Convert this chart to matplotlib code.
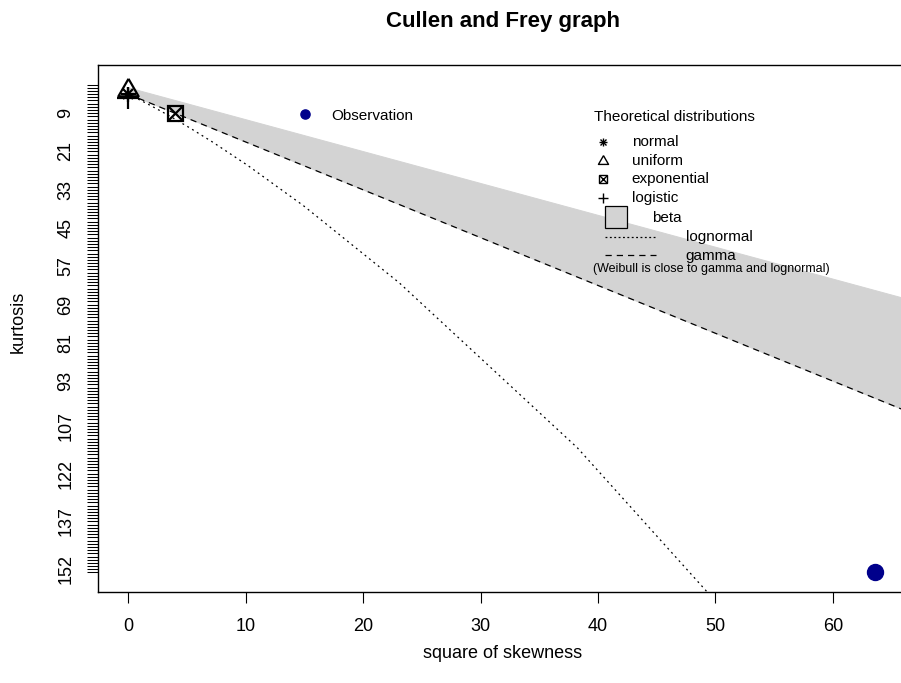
import matplotlib
matplotlib.use("Agg")
import matplotlib.pyplot as plt
from matplotlib.ticker import FixedLocator, FixedFormatter

plt.rcParams['font.family'] = ['Liberation Sans', 'DejaVu Sans']

# ---------------- data ----------------
obs_skew2 = [63.6]
obs_kurt = [152.7]
kurt_max = 153
skew2_max = 64

normal_pt = (0.0, 3.0)
uniform_pt = (0.0, 1.8)
exponential_pt = (4.0, 9.0)
logistic_pt = (0.0, 4.2)

# beta region boundary (square of skewness, kurtosis)
beta_skew2 = [0, 70, 70, 0]
beta_kurt = [1, 71, 108, 3]

# gamma line
gamma_skew2 = [0, 70]
gamma_kurt = [3, 108]

# lognormal curve
lnorm_skew2 = [0.0, 0.4752, 1.4333, 1.8175, 2.3250, 3.0079, 3.9478, 5.2764,
               7.2191, 10.1806, 14.937, 23.087, 38.253, 69.53]
lnorm_kurt = [3.0, 3.857, 5.653, 6.397, 7.400, 8.785, 10.752, 13.647,
              18.103, 25.353, 38.016, 62.19, 113.936, 241.9]

ytick_labels = [9, 21, 33, 45, 57, 69, 81, 93, 107, 122, 137, 152]
xtick_vals = [0, 10, 20, 30, 40, 50, 60]

# ---------------- figure ----------------
W, H = 901, 683
fig = plt.figure(figsize=(W / 100, H / 100), dpi=100)
ax = fig.add_axes([98 / W, (H - 592) / H, 812 / W, 527 / H])

ax.set_xlim(-0.04 * skew2_max, 1.04 * skew2_max)
ax.set_ylim(1.04 * kurt_max, -0.04 * kurt_max)

grey = '#D3D3D3'
ax.fill(beta_skew2, beta_kurt, color=grey, ec=grey, lw=0.7, zorder=1)
ax.plot(gamma_skew2, gamma_kurt, color='black', lw=0.9, ls=(0, (5, 4)), zorder=2)
ax.plot(lnorm_skew2, lnorm_kurt, color='black', lw=0.9, ls=(0, (1.5, 3)), zorder=2)

mew = 1.6
# normal: asterisk (plus + x)
ax.plot(*normal_pt, marker='+', ms=10.8, mew=mew, color='black', zorder=3)
ax.plot(*normal_pt, marker='x', ms=7.6, mew=mew, color='black', zorder=3)
# uniform: open triangle
tri = [(0, 1), (-0.866, -0.5), (0.866, -0.5), (0, 1)]
ax.plot(*uniform_pt, marker=tri, ms=16.8, mew=mew, mfc='none', mec='black', zorder=3)
# exponential: square with cross
ax.plot(*exponential_pt, marker='s', ms=10.8, mew=mew, mfc='none', mec='black', zorder=3)
ax.plot(*exponential_pt, marker='x', ms=10.8, mew=mew, color='black', zorder=3)
# logistic: plus
ax.plot(*logistic_pt, marker='+', ms=15.2, mew=mew, color='black', zorder=3)

# observation
ax.plot(obs_skew2, obs_kurt, ls='none', marker='o', ms=11.5, color='#00008B', zorder=4)

# ---------------- axes styling ----------------
for s in ax.spines.values():
    s.set_linewidth(1.0)
    s.set_color('black')

ax.xaxis.set_major_locator(FixedLocator(xtick_vals))
ax.xaxis.set_major_formatter(FixedFormatter([str(v) for v in xtick_vals]))
yt = list(range(0, kurt_max + 1))
ax.yaxis.set_major_locator(FixedLocator(yt))
ax.yaxis.set_major_formatter(FixedFormatter([str(v) if v in ytick_labels else '' for v in yt]))

ax.tick_params(axis='x', length=8, width=0.8, pad=11, labelsize=13, colors='black')
ax.tick_params(axis='y', length=8, width=0.75, pad=9, labelsize=13, colors='black')
for lab in ax.get_yticklabels():
    lab.set_rotation(90)
    lab.set_va('center')
    lab.set_ha('right')

fig.text(503 / W, 1 - 21 / H, 'Cullen and Frey graph', ha='center', va='center',
         fontsize=16, fontweight='bold')
fig.text(503 / W, 1 - 654 / H, 'square of skewness', ha='center', va='center', fontsize=13)
fig.text(18 / W, 1 - 322 / H, 'kurtosis', ha='center', va='center', rotation=90, fontsize=13)

# ---------------- legends ----------------
lfs = 11
ax.plot(15.05, 9.24, marker='o', ms=6.6, color='#00008B', clip_on=False, zorder=5)
ax.text(17.26, 9.9, 'Observation', fontsize=lfs, va='center', ha='left')

ax.text(39.63, 10.18, 'Theoretical distributions', fontsize=lfs, va='center', ha='left')
sx, tx = 40.39, 42.86
# normal
ax.plot(sx, 18.02, marker='+', ms=5.8, mew=1.0, color='black')
ax.plot(sx, 18.02, marker='x', ms=4.1, mew=1.0, color='black')
ax.text(tx, 18.02, 'normal', fontsize=lfs, va='center', ha='left')
# uniform
ax.plot(sx, 24.0, marker=tri, ms=8.4, mew=1.0, mfc='none', mec='black')
ax.text(tx, 24.0, 'uniform', fontsize=lfs, va='center', ha='left')
# exponential
ax.plot(sx, 29.63, marker='s', ms=5.4, mew=1.0, mfc='none', mec='black')
ax.plot(sx, 29.63, marker='x', ms=5.4, mew=1.0, color='black')
ax.text(tx, 29.63, 'exponential', fontsize=lfs, va='center', ha='left')
# logistic
ax.plot(sx, 35.6, marker='+', ms=7.6, mew=1.0, color='black')
ax.text(tx, 35.6, 'logistic', fontsize=lfs, va='center', ha='left')
# beta
ax.plot(41.5, 41.54, marker='s', ms=15.8, mew=0.9, mfc=grey, mec='black')
ax.text(44.64, 41.86, 'beta', fontsize=lfs, va='center', ha='left')
# lognormal
ax.plot([40.56, 44.98], [47.8, 47.8], color='black', lw=0.9, ls=(0, (1.5, 2)))
ax.text(47.45, 47.8, 'lognormal', fontsize=lfs, va='center', ha='left')
# gamma
ax.plot([40.56, 44.98], [53.46, 53.46], color='black', lw=0.9, ls=(0, (5, 4)))
ax.text(47.45, 53.7, 'gamma', fontsize=lfs, va='center', ha='left')
ax.text(39.54, 57.9, '(Weibull is close to gamma and lognormal)', fontsize=9.0,
        va='center', ha='left')

fig.savefig('out.png', dpi=100)
